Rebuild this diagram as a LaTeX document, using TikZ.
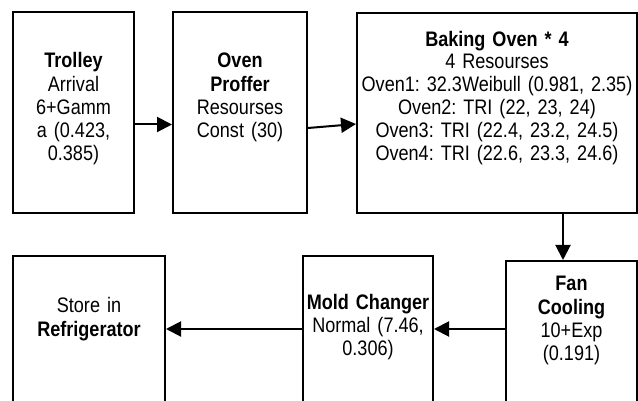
\documentclass[tikz,border=0pt]{standalone}
\usepackage{fontspec}
\setmainfont[FakeStretch=0.86]{Liberation Sans}
\usepackage{tikz}
\usetikzlibrary{arrows.meta, positioning, calc}
\frenchspacing

\begin{document}
\begin{tikzpicture}[
  x=0.5pt, y=-0.5pt,
  every node/.style={font=\fontsize{10.5}{11.6}\selectfont},
  box/.style={
    draw=black, line width=1pt, anchor=north west,
    align=center, inner sep=0pt
  },
  arrow/.style={-{Triangle[length=7.5pt, width=7.5pt]}, line width=1pt}
]
\useasboundingbox (0,0) rectangle (638,401);

  % Riga superiore
\node[box, text width=60.5pt, text height=28pt, text depth=72.5pt] (trolley) at (12,11) {\textbf{Trolley}\\Arrival\\6+Gamm\\a (0.423,\\0.385)};
\node[box, text width=67pt, text height=28pt, text depth=72.5pt] (proffer) at (172,11) {\textbf{Oven}\\\textbf{Proffer}\\Resourses\\Const (30)};
\node[box, text width=140pt, text height=17pt, text depth=83pt] (oven) at (356,12) {\textbf{Baking Oven * 4}\\[-1pt]4 Resourses\\Oven1: 32.3Weibull (0.981, 2.35)\\Oven2: TRI (22, 23, 24)\\Oven3: TRI (22.4, 23.2, 24.5)\\Oven4: TRI (22.6, 23.3, 24.6)};

  % Riga inferiore
\node[box, text width=76pt, text height=28.5pt, text depth=54pt] (store) at (12,255) {Store in\\\textbf{Refrigerator}};
\node[box, text width=65pt, text height=26.5pt, text depth=56pt] (mold) at (302,255) {\textbf{Mold Changer}\\Normal (7.46,\\0.306)};
\node[box, text width=65.5pt, text height=15pt, text depth=65pt] (fan) at (505,260) {\textbf{Fan}\\\textbf{Cooling}\\10+Exp\\(0.191)};

  % Frecce
  \draw[arrow] ([yshift=-6pt]trolley.east) -- ([yshift=-6pt]proffer.west);
  \draw[arrow] ([yshift=-7.75pt]proffer.east) -- ([yshift=-5.5pt]oven.west);
  \draw[arrow] ([xshift=33pt]oven.south) -- ([xshift=-4.25pt]fan.north);
  \draw[arrow] ([yshift=6pt]fan.west) -- ([yshift=4.75pt]mold.east);
  \draw[arrow] ([yshift=4.75pt]mold.west) -- ([yshift=4.75pt]store.east);

\end{tikzpicture}
\end{document}
